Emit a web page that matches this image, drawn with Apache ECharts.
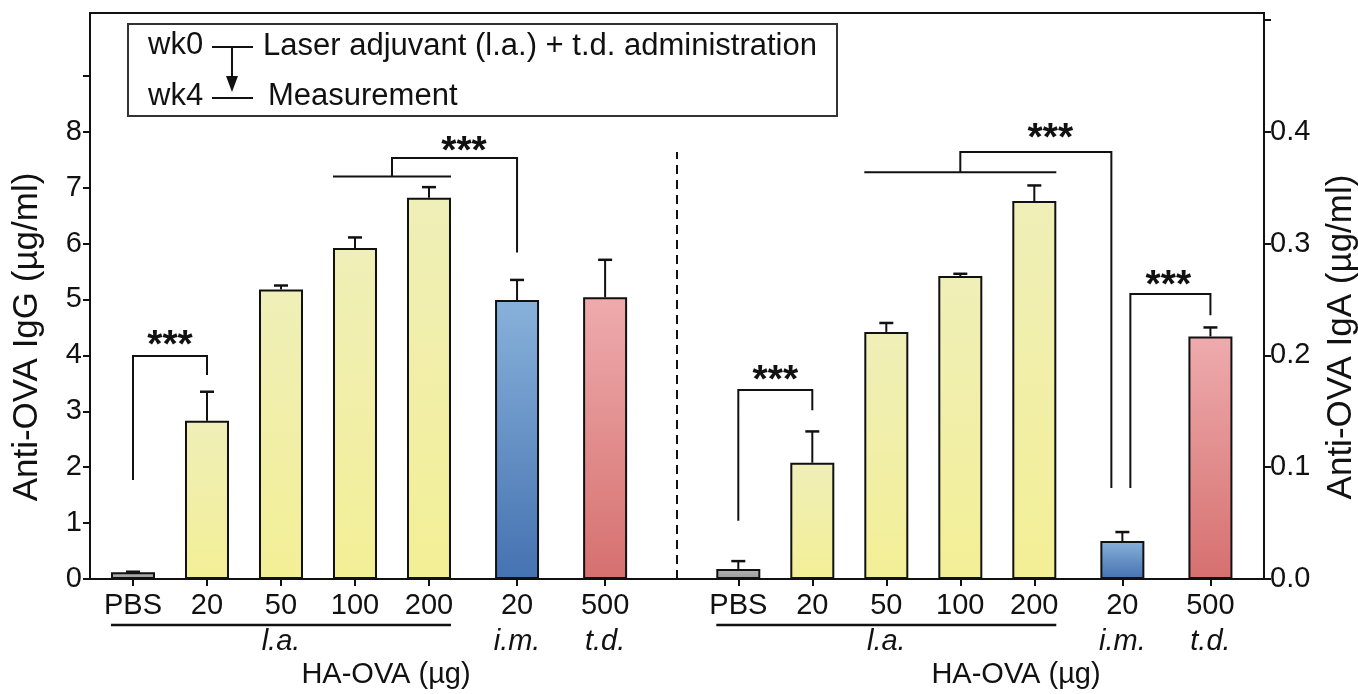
<!DOCTYPE html>
<html><head><meta charset="utf-8">
<script src="https://cdn.jsdelivr.net/npm/echarts@6/dist/echarts.min.js"></script>
<style>html,body{margin:0;padding:0;background:#fff}#c{width:1358px;height:694px}</style>
</head><body><div id="c"></div>
<script>
// ---------------- data ----------------
const categories = ['PBS', '20', '50', '100', '200', '20', '500'];
const routes = ['l.a.', 'l.a.', 'l.a.', 'l.a.', 'l.a.', 'i.m.', 't.d.'];
const routeGroup = [0, 0, 0, 0, 0, 1, 2];
const fillGroups = ['pbs', 'la', 'la', 'la', 'la', 'im', 'td'];
const iggMean = [0.12, 2.83, 5.18, 5.92, 6.82, 4.99, 5.04];
const iggErr  = [0.01, 0.52, 0.07, 0.19, 0.19, 0.36, 0.67];
const igaMean = [0.009, 0.104, 0.221, 0.271, 0.338, 0.034, 0.217];
const igaErr  = [0.007, 0.028, 0.008, 0.002, 0.014, 0.008, 0.008];
const leftTickValues  = [0, 1, 2, 3, 4, 5, 6, 7, 8, 9];
const leftLabelValues = [0, 1, 2, 3, 4, 5, 6, 7, 8];
const rightTickValues  = [0, 0.1, 0.2, 0.3, 0.4, 0.5];
const rightLabelValues = [0, 0.1, 0.2, 0.3, 0.4];
const xTitle = 'HA-OVA (µg)';
const leftTitle = 'Anti-OVA IgG (µg/ml)';
const rightTitle = 'Anti-OVA IgA (µg/ml)';
const legendTop = ['wk0', 'Laser adjuvant (l.a.) + t.d. administration'];
const legendBottom = ['wk4', 'Measurement'];
const sigText = '***';
// significance brackets: points as [category index, pixel offset, value]
const iggBrackets = [
  { pts: [[0, 0, 1.77], [0, 0, 3.99], [1, 0, 3.99], [1, 0, 3.65]], star: [0.5, 0, 4.33] },
  { pts: [[3, -22, 7.2], [4, 22, 7.2]] },
  { pts: [[3.5, 0, 7.2], [3.5, 0, 7.53], [5, 0, 7.53], [5, 0, 5.84]], star: [3.5, 72, 7.8] }
];
const igaBrackets = [
  { pts: [[0, 0, 0.052], [0, 0, 0.169], [1, 0, 0.169], [1, 0, 0.151]], star: [0.5, 0, 0.185] },
  { pts: [[2, -22, 0.3637], [4, 22, 0.3637]] },
  { pts: [[3, 0, 0.3637], [3, 0, 0.382], [5, -11, 0.382], [5, -11, 0.0815]], star: [3, 90, 0.401] },
  { pts: [[5, 8, 0.0815], [5, 8, 0.255], [6, 0, 0.255], [6, 0, 0.236]], star: [5, 46, 0.27] }
];

// ---------------- layout ----------------
const FONT = "'Liberation Sans', Arial, Helvetica, sans-serif";
const GAP = 0.19, PANEL_OFFSET = 8.18, XMIN = -0.581, XMAX = 15.284;
const LEFT_MAX = 10.125, RIGHT_MAX = 0.50625;
const BAR_W = 44;
function pos(panel, c) {
  return panel * PANEL_OFFSET + c + GAP * routeGroup[Math.round(c)];
}
const fills = {
  pbs: ['#b4b4b4', '#9a9a9a'],
  la: ['#efefb8', '#f3ef96'],
  im: ['#88b1da', '#4572b1'],
  td: ['#eeabad', '#d6706f']
};
function grad(k) {
  return { type: 'linear', x: 0, y: 0, x2: 0, y2: 1,
    colorStops: [{ offset: 0, color: fills[k][0] }, { offset: 1, color: fills[k][1] }] };
}
const allPos = [], allLabels = [];
[0, 1].forEach(p => categories.forEach((c, i) => {
  allPos.push(pos(p, i));
  let t = c;
  if (routes[i] !== 'l.a.') t += '\n{it|' + routes[i] + '}';
  else if (i === 2) t += '\n{it|l.a.}';
  allLabels.push(t);
}));
function barData(panel, mean) {
  return mean.map((v, i) => ({ value: [pos(panel, i), v], itemStyle: { color: grad(fillGroups[i]) } }));
}
function errData(panel, mean, err) {
  return mean.map((v, i) => [pos(panel, i), v, err[i]]);
}
function errRender(params, api) {
  const x = api.value(0), y = api.value(1), e = api.value(2);
  const p0 = api.coord([x, y]), p1 = api.coord([x, y + e]);
  return { type: 'group', children: [
    { type: 'line', shape: { x1: p0[0], y1: p0[1], x2: p1[0], y2: p1[1] }, style: { stroke: '#111', lineWidth: 2 } },
    { type: 'line', shape: { x1: p1[0] - 7, y1: p1[1], x2: p1[0] + 7, y2: p1[1] }, style: { stroke: '#111', lineWidth: 2.5 } }
  ] };
}
function bracketRender(panel, list) {
  return function (params, api) {
    const b = list[params.dataIndex];
    const pts = b.pts.map(q => { const p = api.coord([pos(panel, q[0]), q[2]]); return [p[0] + q[1], p[1]]; });
    const children = [{ type: 'polyline', shape: { points: pts }, style: { stroke: '#111', lineWidth: 2, fill: null } }];
    if (b.star) {
      const s = api.coord([pos(panel, b.star[0]), b.star[2]]);
      children.push({ type: 'text', x: s[0] + b.star[1], y: s[1] + 9,
        style: { text: sigText, fontSize: 39, fontWeight: 'bold', fontFamily: FONT, fill: '#111', align: 'center', verticalAlign: 'middle' } });
    }
    return { type: 'group', children };
  };
}

const chart = echarts.init(document.getElementById('c'), null, { renderer: 'canvas' });
const labelStyle = { color: '#111', fontSize: 29, fontFamily: FONT };
chart.setOption({
  animation: false,
  backgroundColor: '#fff',
  grid: { left: 90, right: 94, top: 13, bottom: 115, show: true, borderColor: '#111', borderWidth: 2,
          containLabel: false, outerBoundsMode: 'none' },
  xAxis: {
    type: 'value', min: XMIN, max: XMAX,
    axisLine: { onZero: false, lineStyle: { color: '#111', width: 2 } },
    axisTick: { show: true, length: 7, lineStyle: { color: '#111', width: 2 }, customValues: allPos },
    splitLine: { show: false },
    axisLabel: Object.assign({}, labelStyle, {
      customValues: allPos, margin: 9, lineHeight: 36, verticalAlign: 'top',
      formatter: function (v) {
        let k = 0, d = Infinity;
        allPos.forEach((p, i) => { if (Math.abs(p - v) < d) { d = Math.abs(p - v); k = i; } });
        return allLabels[k];
      },
      rich: { it: { fontStyle: 'italic', fontSize: 29, fontFamily: FONT, color: '#111', lineHeight: 36 } }
    })
  },
  yAxis: [
    { type: 'value', min: 0, max: LEFT_MAX, position: 'left',
      axisLine: { show: true, onZero: false, lineStyle: { color: '#111', width: 2 } },
      axisTick: { show: true, length: 7, lineStyle: { color: '#111', width: 2 }, customValues: leftTickValues },
      axisLabel: Object.assign({}, labelStyle, { customValues: leftLabelValues, margin: 8, formatter: v => String(v) }),
      splitLine: { show: false } },
    { type: 'value', min: 0, max: RIGHT_MAX, position: 'right',
      axisLine: { show: true, onZero: false, lineStyle: { color: '#111', width: 2 } },
      axisTick: { show: true, length: 7, lineStyle: { color: '#111', width: 2 }, customValues: rightTickValues },
      axisLabel: Object.assign({}, labelStyle, { customValues: rightLabelValues, margin: 6, formatter: v => v.toFixed(1) }),
      splitLine: { show: false } }
  ],
  series: [
    { type: 'bar', yAxisIndex: 0, barWidth: BAR_W, barGap: '-100%', data: barData(0, iggMean),
      itemStyle: { borderColor: '#111', borderWidth: 2 }, z: 2 },
    { type: 'bar', yAxisIndex: 1, barWidth: BAR_W, barGap: '-100%', data: barData(1, igaMean),
      itemStyle: { borderColor: '#111', borderWidth: 2 }, z: 2 },
    { type: 'custom', yAxisIndex: 0, data: errData(0, iggMean, iggErr), renderItem: errRender, z: 3 },
    { type: 'custom', yAxisIndex: 1, data: errData(1, igaMean, igaErr), renderItem: errRender, z: 3 },
    { type: 'custom', yAxisIndex: 0, data: iggBrackets.map((b, i) => [i]), renderItem: bracketRender(0, iggBrackets), z: 4 },
    { type: 'custom', yAxisIndex: 1, data: igaBrackets.map((b, i) => [i]), renderItem: bracketRender(1, igaBrackets), z: 4 }
  ]
});

// ---------------- overlays computed through the axes ----------------
function px(x, y, yi) { return chart.convertToPixel({ xAxisIndex: 0, yAxisIndex: yi || 0 }, [x, y]); }
const g = [];
const axisY = px(0, 0)[1];
[0, 1].forEach(p => {
  const a = px(pos(p, 0), 0)[0] - BAR_W / 2, b = px(pos(p, 4), 0)[0] + BAR_W / 2;
  g.push({ type: 'line', shape: { x1: a, y1: axisY + 46, x2: b, y2: axisY + 46 }, style: { stroke: '#111', lineWidth: 2.5 } });
});
const midX = px((XMIN + XMAX) / 2, 0)[0];
g.push({ type: 'line', shape: { x1: midX, y1: axisY, x2: midX, y2: px(0, 7.64)[1] },
  style: { stroke: '#111', lineWidth: 2, lineDash: [9, 6] } });
[386, 1016].forEach(cx => g.push({ type: 'text', x: cx, y: 675,
  style: { text: xTitle, fontSize: 29, fontFamily: FONT, fill: '#111', align: 'center', verticalAlign: 'middle' } }));
// axis titles (rotated, reading bottom to top)
[[27, leftTitle], [1341, rightTitle]].forEach(t => g.push({ type: 'text', x: t[0], y: 337, rotation: Math.PI / 2,
  style: { text: t[1], fontSize: 35, fontFamily: FONT, fill: '#111', align: 'center', verticalAlign: 'middle' } }));
// legend box
g.push({ type: 'rect', shape: { x: 128, y: 24, width: 709, height: 92 }, style: { stroke: '#333', lineWidth: 2, fill: null } });
g.push({ type: 'text', x: 148, y: 45, style: { text: legendTop[0], fontSize: 31, fontFamily: FONT, fill: '#111', verticalAlign: 'middle' } });
g.push({ type: 'text', x: 263, y: 46, style: { text: legendTop[1], fontSize: 31, fontFamily: FONT, fill: '#111', verticalAlign: 'middle' } });
g.push({ type: 'text', x: 148, y: 96, style: { text: legendBottom[0], fontSize: 31, fontFamily: FONT, fill: '#111', verticalAlign: 'middle' } });
g.push({ type: 'text', x: 268, y: 96, style: { text: legendBottom[1], fontSize: 31, fontFamily: FONT, fill: '#111', verticalAlign: 'middle' } });
g.push({ type: 'line', shape: { x1: 212, y1: 47, x2: 253, y2: 47 }, style: { stroke: '#111', lineWidth: 2 } });
g.push({ type: 'line', shape: { x1: 212, y1: 98, x2: 253, y2: 98 }, style: { stroke: '#111', lineWidth: 2 } });
g.push({ type: 'line', shape: { x1: 232, y1: 47, x2: 232, y2: 80 }, style: { stroke: '#111', lineWidth: 2 } });
g.push({ type: 'polygon', shape: { points: [[226, 76], [238, 76], [232, 92]] }, style: { fill: '#111' } });
chart.setOption({ graphic: g });
</script></body></html>
